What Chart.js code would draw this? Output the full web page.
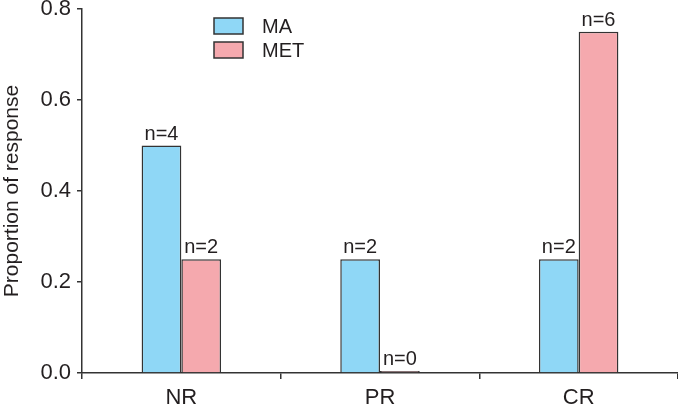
<!DOCTYPE html>
<html>
<head>
<meta charset="utf-8">
<script src="https://cdn.jsdelivr.net/npm/chart.js@4/dist/chart.umd.min.js"></script>
<style>
  html, body { margin: 0; padding: 0; background: #fff; }
  #wrap { width: 678px; height: 406px; }
</style>
</head>
<body>
<div id="wrap"><canvas id="chart"></canvas></div>
<script>
// Categories and series values
const categories = ["NR", "PR", "CR"];
const maValues = [0.5, 0.25, 0.25];
const metValues = [0.25, 0, 0.75];
const maCounts = [4, 2, 2];
const metCounts = [2, 0, 6];
const yTicks = [0, 0.2, 0.4, 0.6, 0.8];

const FONT = "'Liberation Sans', Arial, Helvetica, sans-serif";
const INK = "#231f20";

// Draws the "n=" labels above each bar
const countLabels = {
  id: "countLabels",
  afterDatasetsDraw(chart) {
    const ctx = chart.ctx;
    const counts = [maCounts, metCounts];
    ctx.save();
    ctx.font = "20px " + FONT;
    ctx.fillStyle = INK;
    ctx.textAlign = "center";
    ctx.textBaseline = "alphabetic";
    chart.data.datasets.forEach((ds, i) => {
      chart.getDatasetMeta(i).data.forEach((bar, j) => {
        ctx.fillText("n=" + counts[i][j], bar.x, bar.y - 6);
      });
    });
    ctx.restore();
  }
};

// Simple stacked legend inside the plot
const boxLegend = {
  id: "boxLegend",
  afterDraw(chart) {
    const ctx = chart.ctx;
    ctx.save();
    ctx.font = "20px " + FONT;
    ctx.textBaseline = "alphabetic";
    chart.data.datasets.forEach((ds, i) => {
      const y = 18 + i * 24;
      ctx.fillStyle = ds.backgroundColor;
      ctx.fillRect(214, y, 29, 16);
      ctx.strokeStyle = "#333";
      ctx.lineWidth = 1.5;
      ctx.strokeRect(214, y, 29, 16);
      ctx.fillStyle = INK;
      ctx.fillText(ds.label, 262, y + 15);
    });
    ctx.restore();
  }
};

new Chart(document.getElementById("chart"), {
  type: "bar",
  data: {
    labels: categories,
    datasets: [
      {
        label: "MA",
        data: maValues,
        backgroundColor: "#8fd7f6",
        borderColor: "#333",
        borderWidth: 1.5
      },
      {
        label: "MET",
        data: metValues,
        backgroundColor: "#f5a9ae",
        borderColor: "#333",
        borderWidth: 1.5
      }
    ]
  },
  options: {
    responsive: true,
    maintainAspectRatio: false,
    animation: false,
    minBarLength: 2,
    categoryPercentage: 0.4,
    barPercentage: 1.0,
    layout: { padding: 0 },
    plugins: {
      legend: { display: false },
      tooltip: { enabled: false }
    },
    scales: {
      x: {
        offset: true,
        afterFit(scale) {
          scale.height = 33;
          scale.paddingLeft = 0;
          scale.paddingRight = 0;
        },
        border: { display: true, color: "#333", width: 1.5 },
        grid: {
          offset: true,
          drawOnChartArea: false,
          drawTicks: true,
          tickLength: 6,
          color: "#333",
          lineWidth: 1.5
        },
        ticks: {
          color: INK,
          padding: 6,
          font: { family: FONT, size: 22 }
        }
      },
      y: {
        min: 0,
        max: 0.8,
        afterFit(scale) {
          scale.width = 82;
          scale.paddingTop = 9;
          scale.paddingBottom = 0;
        },
        afterBuildTicks(scale) {
          scale.ticks = yTicks.map(v => ({ value: v }));
        },
        border: { display: true, color: "#333", width: 1.5 },
        grid: {
          drawOnChartArea: false,
          drawTicks: true,
          tickLength: 5,
          color: "#333",
          lineWidth: 1.5
        },
        ticks: {
          color: INK,
          padding: 6,
          font: { family: FONT, size: 22 },
          callback: v => v.toFixed(1)
        },
        title: {
          display: true,
          text: "Proportion of response",
          color: INK,
          padding: 0,
          font: { family: FONT, size: 21 }
        }
      }
    }
  },
  plugins: [countLabels, boxLegend]
});
</script>
</body>
</html>
